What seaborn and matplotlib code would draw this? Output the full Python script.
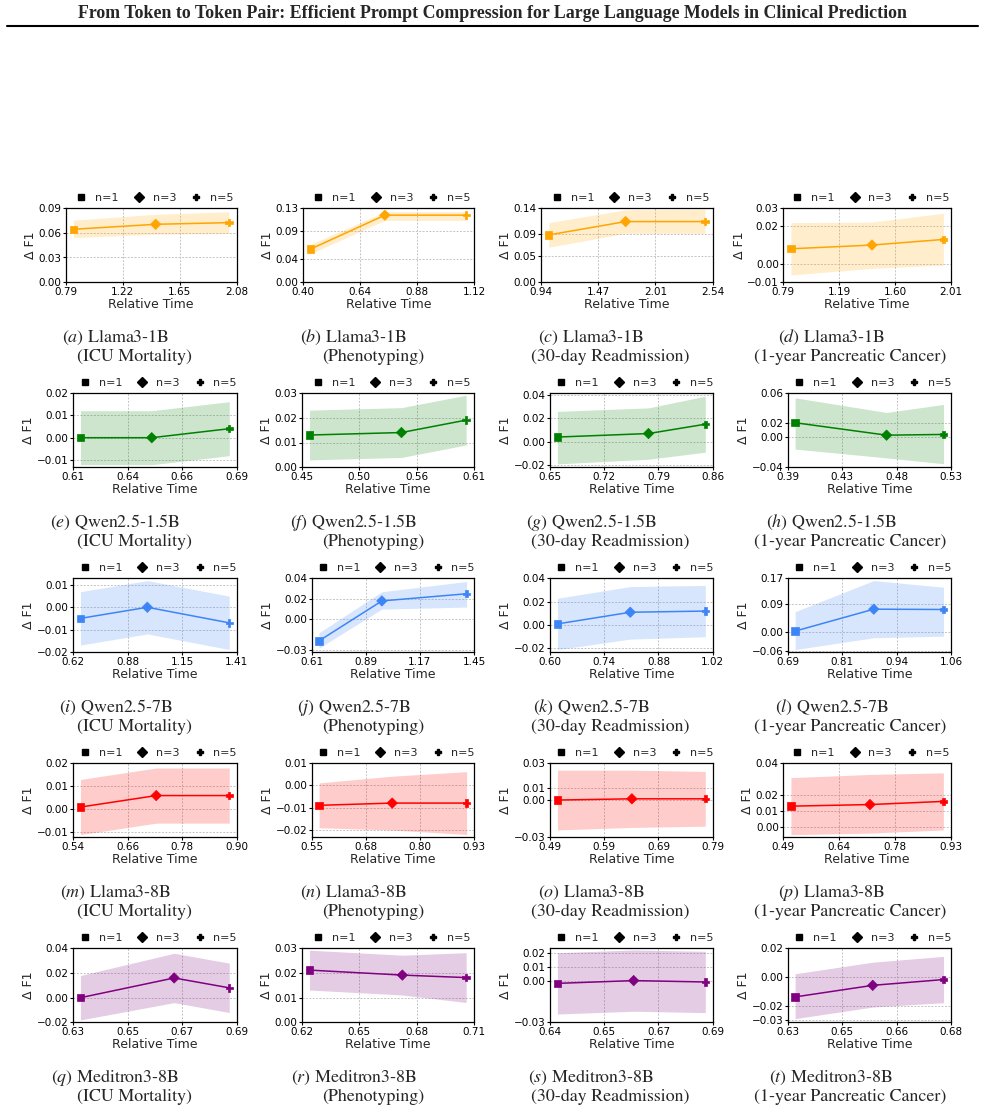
import numpy as np
import pandas as pd
import matplotlib
matplotlib.use("Agg")
import matplotlib.pyplot as plt
import seaborn as sns
from matplotlib.lines import Line2D

sns.set_style("ticks")
plt.rcParams["font.family"] = ["DejaVu Sans"]
plt.rcParams["mathtext.fontset"] = "stix"

# ---------------- data ----------------
title = ("From Token to Token Pair: Efficient Prompt Compression for Large "
         "Language Models in Clinical Prediction")
models = ["Llama3-1B", "Qwen2.5-1.5B", "Qwen2.5-7B", "Llama3-8B", "Meditron3-8B"]
tasks = ["ICU Mortality", "Phenotyping", "30-day Readmission", "1-year Pancreatic Cancer"]
letters = list("abcdefghijklmnopqrst")
n_labels = ["n=1", "n=3", "n=5"]
row_colors = ["#FFA500", "#008000", "#3D85F6", "#FF0000", "#800080"]

# relative time (x) per model, one list per task
time_llama3_1b = [[0.848, 1.466, 2.017], [0.438, 0.749, 1.089], [1.018, 1.732, 2.469], [0.882, 1.452, 1.954]]
time_qwen_1_5b = [[0.614, 0.6485, 0.686], [0.459, 0.5435, 0.603], [0.661, 0.778, 0.851], [0.395, 0.472, 0.520]]
time_qwen_7b = [[0.659, 0.979, 1.371], [0.653, 0.976, 1.412], [0.6215, 0.809, 1.002], [0.709, 0.886, 1.043]]
time_llama3_8b = [[0.558, 0.723, 0.882], [0.568, 0.739, 0.913], [0.505, 0.642, 0.777], [0.503, 0.713, 0.908]]
time_meditron = [[0.633, 0.667, 0.687], [0.625, 0.673, 0.706], [0.6405, 0.6634, 0.6849], [0.633, 0.656, 0.677]]

# delta F1 (mean)
f1_llama3_1b = [[0.064, 0.070, 0.072], [0.058, 0.117, 0.117], [0.089, 0.114, 0.114], [0.008, 0.010, 0.013]]
f1_qwen_1_5b = [[0.000, 0.000, 0.004], [0.013, 0.014, 0.019], [0.004, 0.007, 0.015], [0.020, 0.003, 0.004]]
f1_qwen_7b = [[-0.005, 0.000, -0.007], [-0.021, 0.018, 0.025], [0.001, 0.011, 0.012], [0.004, 0.073, 0.072]]
f1_llama3_8b = [[0.001, 0.006, 0.006], [-0.009, -0.008, -0.008], [0.000, 0.001, 0.001], [0.013, 0.014, 0.016]]
f1_meditron = [[0.000, 0.016, 0.008], [0.021, 0.019, 0.018], [-0.002, 0.000, -0.001], [-0.014, -0.006, -0.002]]

# band lower / upper
lo_llama3_1b = [[0.054, 0.058, 0.059], [0.050, 0.108, 0.108], [0.066, 0.092, 0.092], [-0.006, -0.0025, -0.0007]]
hi_llama3_1b = [[0.075, 0.082, 0.085], [0.066, 0.123, 0.123], [0.112, 0.136, 0.137], [0.022, 0.0223, 0.027]]
lo_qwen_1_5b = [[-0.012, -0.012, -0.008], [0.003, 0.004, 0.009], [-0.019, -0.015, -0.009], [-0.016, -0.028, -0.036]]
hi_qwen_1_5b = [[0.012, 0.012, 0.016], [0.023, 0.024, 0.029], [0.026, 0.029, 0.039], [0.054, 0.034, 0.045]]
lo_qwen_7b = [[-0.017, -0.012, -0.019], [-0.028, 0.010, 0.012], [-0.021, -0.012, -0.010], [-0.054, -0.017, -0.012]]
hi_qwen_7b = [[0.007, 0.012, 0.005], [-0.013, 0.027, 0.037], [0.023, 0.033, 0.034], [0.065, 0.163, 0.142]]
lo_llama3_8b = [[-0.011, -0.006, -0.006], [-0.019, -0.020, -0.022], [-0.024, -0.022, -0.021], [-0.005, -0.004, -0.002]]
hi_llama3_8b = [[0.013, 0.018, 0.018], [0.001, 0.004, 0.006], [0.024, 0.024, 0.023], [0.031, 0.033, 0.034]]
lo_meditron = [[-0.018, -0.004, -0.012], [0.013, 0.011, 0.008], [-0.024, -0.022, -0.023], [-0.029, -0.021, -0.018]]
hi_meditron = [[0.018, 0.036, 0.028], [0.029, 0.027, 0.028], [0.020, 0.022, 0.021], [0.002, 0.010, 0.014]]

# x tick labels
xtl_llama3_1b = [["0.79", "1.22", "1.65", "2.08"], ["0.40", "0.64", "0.88", "1.12"], ["0.94", "1.47", "2.01", "2.54"], ["0.79", "1.19", "1.60", "2.01"]]
xtl_qwen_1_5b = [["0.61", "0.64", "0.66", "0.69"], ["0.45", "0.50", "0.56", "0.61"], ["0.65", "0.72", "0.79", "0.86"], ["0.39", "0.43", "0.48", "0.53"]]
xtl_qwen_7b = [["0.62", "0.88", "1.15", "1.41"], ["0.61", "0.89", "1.17", "1.45"], ["0.60", "0.74", "0.88", "1.02"], ["0.69", "0.81", "0.94", "1.06"]]
xtl_llama3_8b = [["0.54", "0.66", "0.78", "0.90"], ["0.55", "0.68", "0.80", "0.93"], ["0.49", "0.59", "0.69", "0.79"], ["0.49", "0.64", "0.78", "0.93"]]
xtl_meditron = [["0.63", "0.65", "0.67", "0.69"], ["0.62", "0.65", "0.68", "0.71"], ["0.64", "0.65", "0.67", "0.69"], ["0.63", "0.65", "0.66", "0.68"]]

# y ticks and y limits
yt_llama3_1b = [[0, .03, .06, .09], [0, .04, .09, .13], [0, .05, .09, .14], [-.01, 0, .02, .03]]
yt_qwen_1_5b = [[-.01, 0, .01, .02], [0, .01, .02, .03], [-.02, 0, .02, .04], [-.04, 0, .02, .06]]
yt_qwen_7b = [[-.02, -.01, 0, .01], [-.03, 0, .02, .04], [-.02, 0, .02, .04], [-.06, 0, .09, .17]]
yt_llama3_8b = [[-.01, 0, .01, .02], [-.02, -.01, 0, .01], [-.03, 0, .01, .03], [0, .01, .02, .04]]
yt_meditron = [[-.02, 0, .02, .04], [0, .01, .02, .03], [-.03, 0, .01, .02], [-.03, -.02, 0, .02]]

yl_llama3_1b = [(0, .09), (0, .13), (0, .14), (-.01, .03)]
yl_qwen_1_5b = [(-.0132, .02), (0, .03), (-.022, .042), (-.041, .061)]
yl_qwen_7b = [(-.0203, .0133), (-.0323, .0407), (-.0234, .0406), (-.063, .172)]
yl_llama3_8b = [(-.0122, .0203), (-.0233, .01), (-.03, .03), (-.0067, .0404)]
yl_meditron = [(-.02, .0405), (0, .03), (-.03, .0236), (-.0316, .02)]

times = [time_llama3_1b, time_qwen_1_5b, time_qwen_7b, time_llama3_8b, time_meditron]
f1s = [f1_llama3_1b, f1_qwen_1_5b, f1_qwen_7b, f1_llama3_8b, f1_meditron]
los = [lo_llama3_1b, lo_qwen_1_5b, lo_qwen_7b, lo_llama3_8b, lo_meditron]
his = [hi_llama3_1b, hi_qwen_1_5b, hi_qwen_7b, hi_llama3_8b, hi_meditron]
xtls = [xtl_llama3_1b, xtl_qwen_1_5b, xtl_qwen_7b, xtl_llama3_8b, xtl_meditron]
yts = [yt_llama3_1b, yt_qwen_1_5b, yt_qwen_7b, yt_llama3_8b, yt_meditron]
yls = [yl_llama3_1b, yl_qwen_1_5b, yl_qwen_7b, yl_llama3_8b, yl_meditron]

# ---------------- layout (pixels) ----------------
W, H = 985, 1112
fig = plt.figure(figsize=(W / 100, H / 100), dpi=100)
LEFTS = [[65.7, 302.7, 541, 783.3],
         [73, 301.7, 550, 787.7],
         [73, 311.7, 550, 787.7],
         [73, 311.7, 550, 783.3],
         [73, 301.7, 550, 787.7]]
RIGHTS = [236.7, 474, 712.7, 951]
TOPS = [207.7, 392.7, 577.7, 762.7, 947.7]
AX_H = 74.7
CAP_CENTERS = [134.5, 373, 610.5, 850.5]

marker_map = dict(zip(n_labels, ["s", "D", "P"]))

def fmt(v):
    s = f"{v + 0.0:.2f}"
    if s == "-0.00":
        s = "0.00"
    return s.replace("-", "\u2212")

for r in range(5):
    col = row_colors[r]
    for c in range(4):
        left, right, top = LEFTS[r][c], RIGHTS[c], TOPS[r]
        ax = fig.add_axes([left / W, 1 - (top + AX_H) / H, (right - left) / W, AX_H / H])
        x = np.array(times[r][c])
        df = pd.DataFrame({"Relative Time": x, "dF1": f1s[r][c], "n": n_labels})
        ax.fill_between(x, los[r][c], his[r][c], color=col, alpha=0.2, lw=0)
        sns.lineplot(data=df, x="Relative Time", y="dF1", color=col, lw=1.1,
                     sort=False, ax=ax, legend=False)
        sns.scatterplot(data=df, x="Relative Time", y="dF1", style="n",
                        markers=marker_map, color=col, edgecolor=col, s=28,
                        linewidth=0.5, ax=ax, legend=False, zorder=3)
        span = x.max() - x.min()
        xlo, xhi = x.min() - 0.05 * span, x.max() + 0.05 * span
        ax.set_xlim(xlo, xhi)
        ax.set_xticks(np.linspace(xlo, xhi, 4))
        ax.set_xticklabels(xtls[r][c])
        ax.set_ylim(*yls[r][c])
        ax.set_yticks(yts[r][c])
        ax.set_yticklabels([fmt(v) for v in yts[r][c]])
        ax.grid(True, ls=(0, (2, 1.5)), color="#c4c4c4", lw=0.7)
        ax.set_axisbelow(True)
        for sp in ax.spines.values():
            sp.set_color("black")
            sp.set_linewidth(0.9)
        ax.tick_params(length=2, width=0.8, labelsize=7.5, pad=1.2, colors="black")
        ax.set_xlabel("Relative Time", fontsize=9, labelpad=0.5)
        ax.set_ylabel("\u0394 F1", fontsize=9, labelpad=1)
        handles = [Line2D([], [], marker=marker_map[n], color="black", ls="None",
                          markersize=5) for n in n_labels]
        ax.legend(handles, n_labels, ncol=3, frameon=False, fontsize=8,
                  loc="center", bbox_to_anchor=(0.52, 1 + 9.5 / AX_H),
                  handlelength=1.0, handletextpad=0.75, columnspacing=1.3,
                  borderpad=0, borderaxespad=0)
        # caption
        bottom = top + AX_H
        cx = CAP_CENTERS[c]
        fig.text((cx - 19) / W, 1 - (bottom + 55.5) / H,
                 r"$\mathit{(" + letters[r * 4 + c] + r")}$ " + models[r],
                 family="STIXGeneral", fontsize=12.9, ha="center", va="center")
        fig.text(cx / W, 1 - (bottom + 75) / H, "(" + tasks[c] + ")",
                 family="STIXGeneral", fontsize=12.9, ha="center", va="center")

# header
t = fig.text(492 / W, 1 - 13 / H, title, family="Liberation Serif",
             weight="bold", fontsize=12.5, ha="center", va="center")
fig.canvas.draw()
tw = t.get_window_extent().width
t.set_fontsize(12.5 * 832 / tw)
fig.add_artist(Line2D([7 / W, 978 / W], [1 - 25.5 / H] * 2, color="black", lw=1.5))

fig.savefig("out.png", dpi=100)
